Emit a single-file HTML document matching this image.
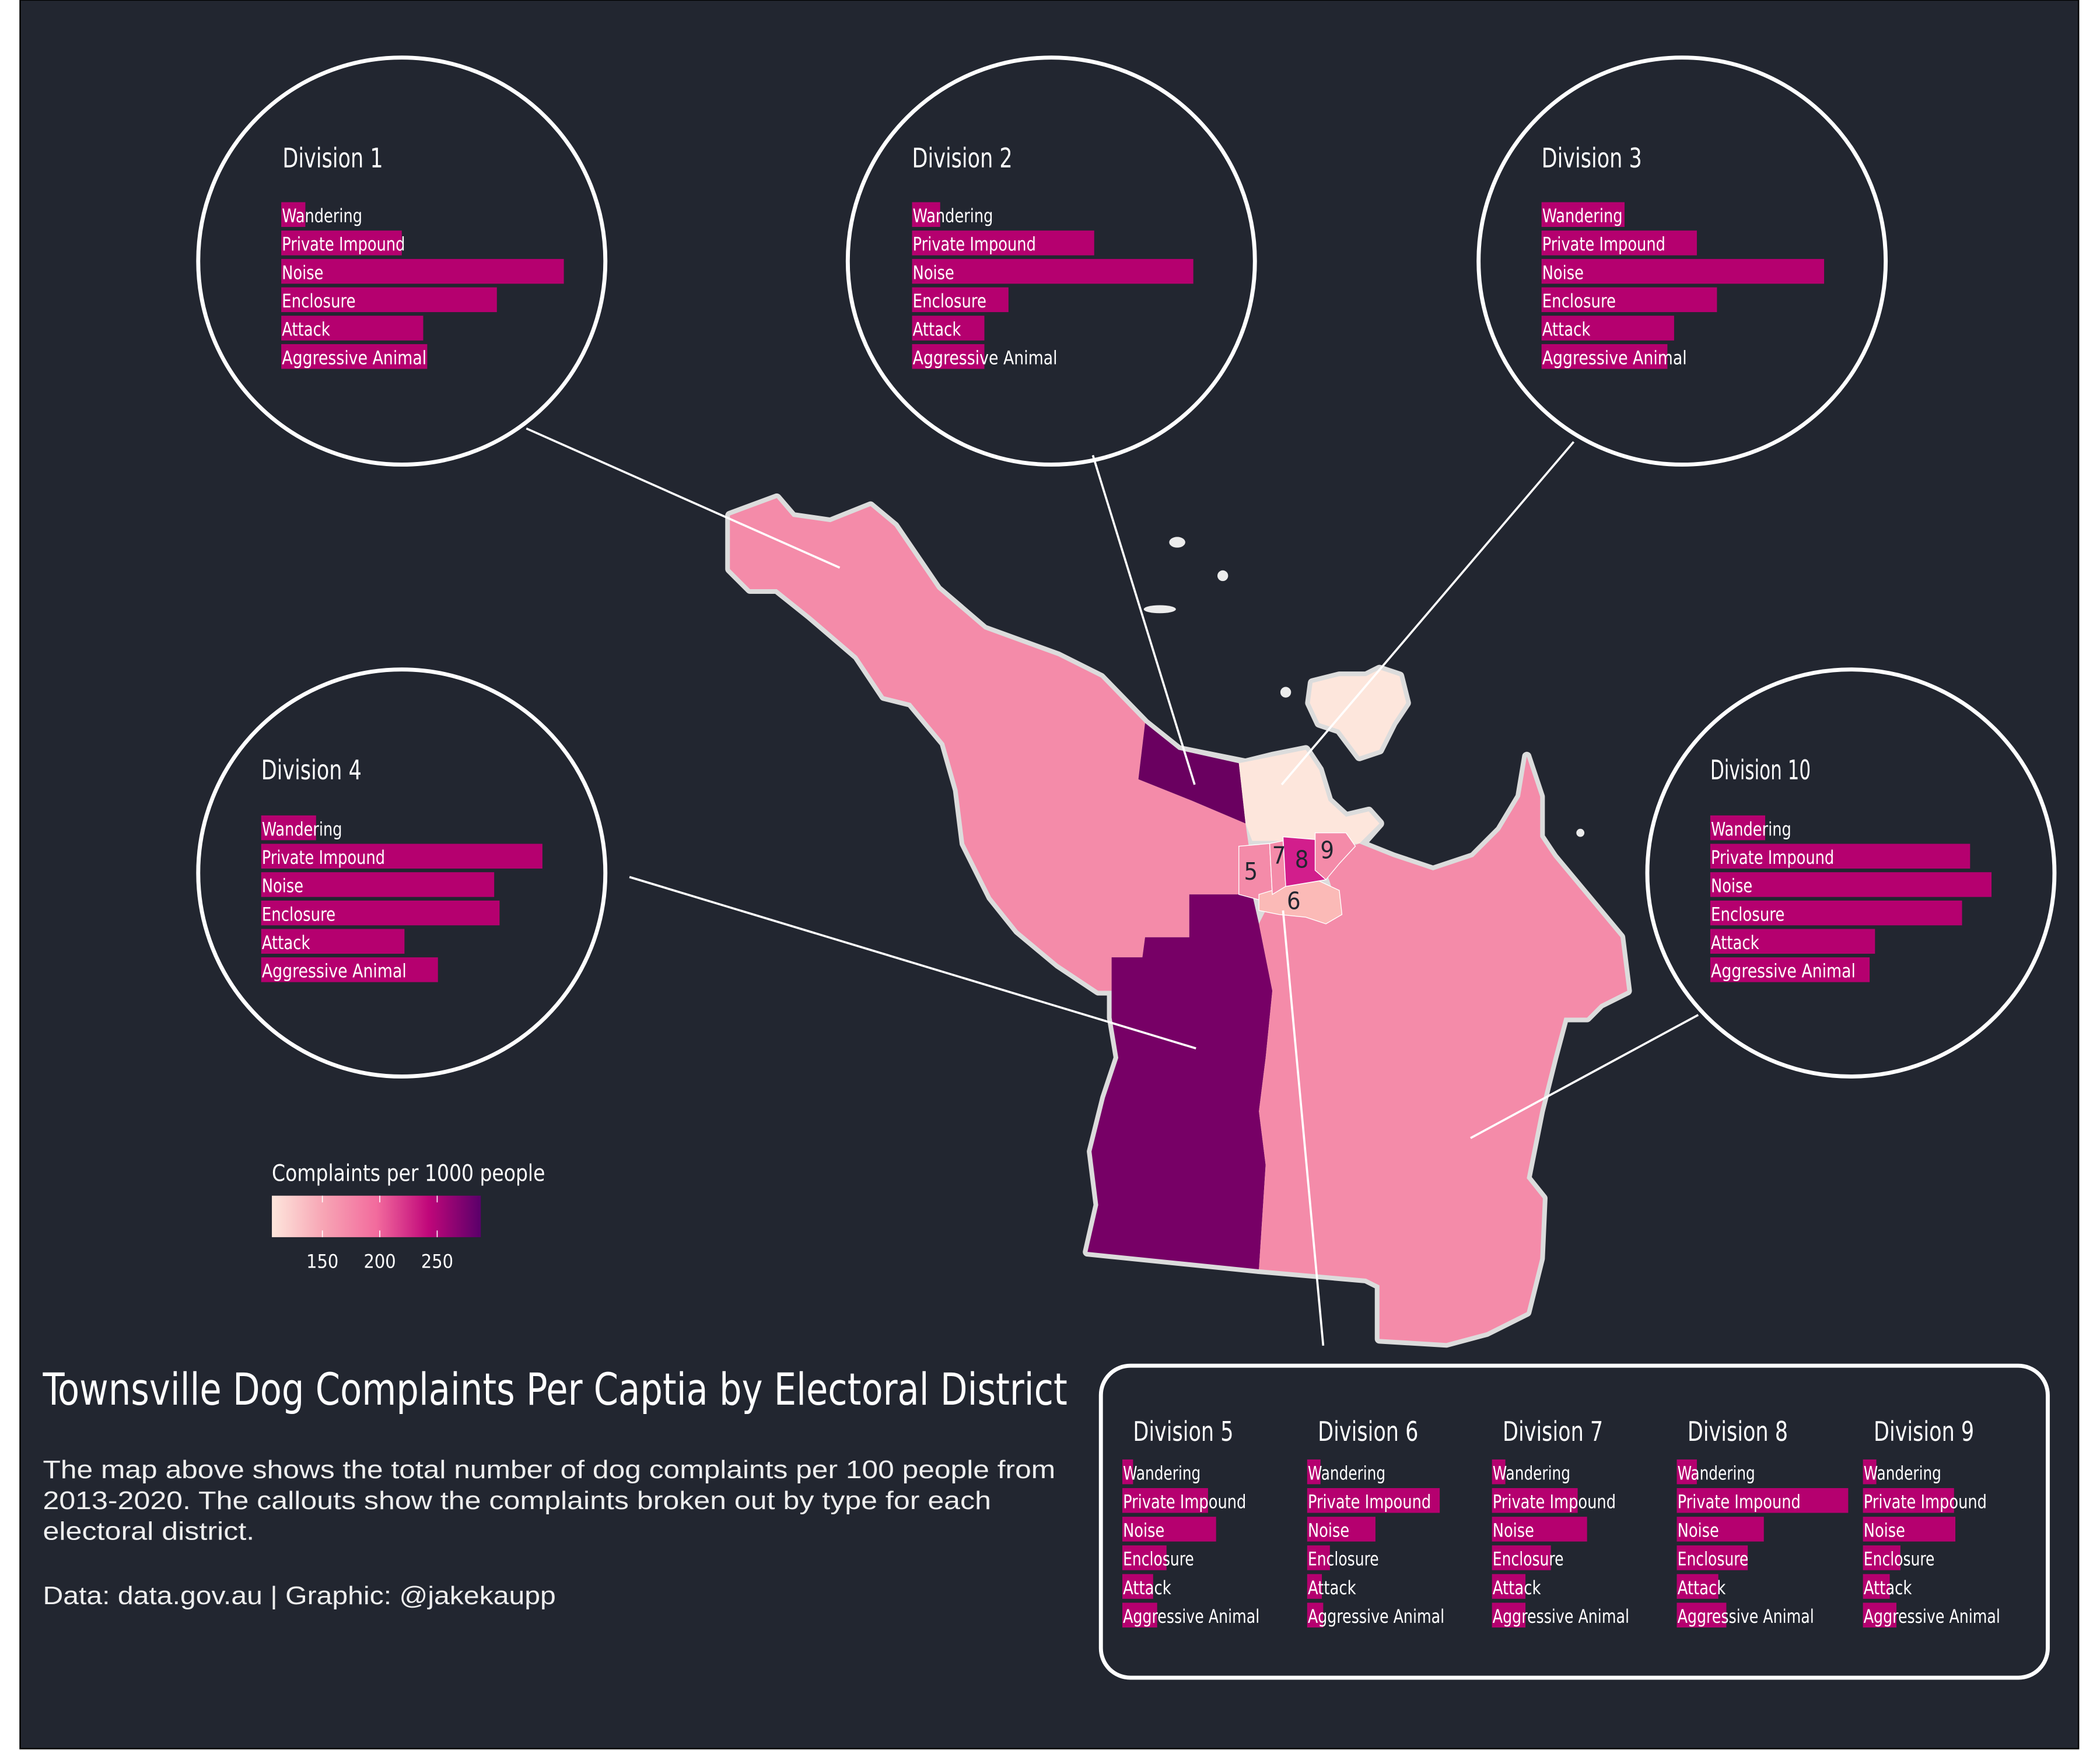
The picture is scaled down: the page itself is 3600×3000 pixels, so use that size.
<!DOCTYPE html>
<html><head><meta charset="utf-8"><style>
html,body{margin:0;padding:0;background:#fff;}
svg{display:block;}
.cond{font-family:"Liberation Sans Narrow","DejaVu Sans Condensed","Liberation Sans",sans-serif;}
</style></head><body>
<svg id="chart" width="3600" height="3000" viewBox="0 0 1568 1307" preserveAspectRatio="none" xmlns="http://www.w3.org/2000/svg">
<defs>
<linearGradient id="rdpu" x1="0" x2="1" y1="0" y2="0">
<stop offset="0" stop-color="#fde6dc"/><stop offset="0.25" stop-color="#f7a4b4"/><stop offset="0.5" stop-color="#f26b9d"/><stop offset="0.75" stop-color="#c0077a"/><stop offset="1" stop-color="#5a006a"/>
</linearGradient>
</defs>
<rect x="15" y="0" width="1537" height="1306" fill="#222630" stroke="#000" stroke-width="1"/>
<g id="map">
<g stroke="#dcdcdc" stroke-width="7" stroke-linejoin="round" fill="#dcdcdc">
<path d="M545,385 L580,372 L592,386 L620,390 L650,378 L668,393 L700,440 L735,470 L790,490 L822,506 L855,540 L880,560 L930,570 L950,565 L975,560 L985,575 L992,598 L1005,610 L1022,606 L1030,615 L1015,632 L1000,635 L990,650 L1000,680 L985,688 L960,680 L945,680 L950,740 L945,790 L940,830 L945,870 L940,948 L812,935 L820,900 L815,860 L825,820 L835,790 L830,760 L830,740 L820,740 L790,720 L760,695 L740,670 L720,630 L715,590 L705,555 L680,525 L660,520 L640,490 L605,460 L580,440 L560,440 L545,425 Z"/>
<path d="M940,948 L1020,955 L1030,960 L1030,1000 L1080,1003 L1110,995 L1140,980 L1150,940 L1152,895 L1140,880 L1150,830 L1160,790 L1168,760 L1185,760 L1195,750 L1215,740 L1210,700 L1185,670 L1160,640 L1150,625 L1150,595 L1140,565 L1135,595 L1120,620 L1100,640 L1070,650 L1040,640 L1015,630 L1000,635 L990,650 L1000,680 L985,688 L960,680 L945,680 L950,740 L945,790 L940,830 L945,870 Z"/>
<path d="M980,510 L1000,505 L1020,505 L1030,500 L1045,505 L1050,525 L1040,540 L1030,560 L1015,565 L1000,545 L985,540 L978,525 Z"/>
</g>
<path fill="#f48ba9" d="M545,385 L580,372 L592,386 L620,390 L650,378 L668,393 L700,440 L735,470 L790,490 L822,506 L855,540 L850,582 L890,598 L930,615 L935,650 L930,668 L888,668 L888,700 L855,700 L853,715 L830,715 L830,740 L820,740 L790,720 L760,695 L740,670 L720,630 L715,590 L705,555 L680,525 L660,520 L640,490 L605,460 L580,440 L560,440 L545,425 Z"/>
<path fill="#6a0060" d="M855,540 L880,560 L925,570 L930,615 L890,598 L850,582 Z"/>
<path fill="#fde6dc" d="M925,570 L950,565 L975,560 L985,575 L992,598 L1005,610 L1022,606 L1030,615 L1015,630 L990,632 L960,628 L935,628 L930,615 Z"/>
<path fill="#fde6dc" d="M980,510 L1000,505 L1020,505 L1030,500 L1045,505 L1050,525 L1040,540 L1030,560 L1015,565 L1000,545 L985,540 L978,525 Z"/>
<path fill="#770066" d="M888,668 L935,668 L940,690 L950,740 L945,790 L940,830 L945,870 L940,948 L812,935 L820,900 L815,860 L825,820 L835,790 L830,760 L830,715 L853,715 L855,700 L888,700 Z"/>
<path fill="#f48ba9" d="M940,948 L1020,955 L1030,960 L1030,1000 L1080,1003 L1110,995 L1140,980 L1150,940 L1152,895 L1140,880 L1150,830 L1160,790 L1168,760 L1185,760 L1195,750 L1215,740 L1210,700 L1185,670 L1160,640 L1150,625 L1150,595 L1140,565 L1135,595 L1120,620 L1100,640 L1070,650 L1040,640 L1015,630 L1000,635 L990,650 L1000,680 L985,688 L960,680 L945,680 L940,690 L950,740 L945,790 L940,830 L945,870 Z"/>
<path fill="#f48ba9" stroke="#fff" stroke-width="0.6" d="M925,632 L948,630 L950,668 L940,672 L925,668 Z"/>
<path fill="#fbbab7" stroke="#fff" stroke-width="0.6" d="M940,668 L960,662 L985,658 L1000,665 L1002,683 L990,690 L975,685 L955,683 L940,680 Z"/>
<path fill="#f48ba9" stroke="#fff" stroke-width="0.6" d="M948,630 L958,628 L960,662 L950,668 Z"/>
<path fill="#d21e8c" stroke="#fff" stroke-width="0.6" d="M958,625 L982,627 L982,650 L990,657 L960,662 Z"/>
<path fill="#f48ba9" stroke="#fff" stroke-width="0.6" d="M982,622 L1005,622 L1012,632 L1000,645 L990,657 L982,650 Z"/>
<g fill="#ececec">
<ellipse cx="879" cy="405" rx="6" ry="4"/><circle cx="913" cy="430" r="4"/><ellipse cx="866" cy="455" rx="12" ry="3"/><circle cx="960" cy="517" r="4"/><circle cx="1180" cy="622" r="3"/>
</g>
<g font-size="18" fill="#222630" class="cond">
<text x="934" y="657" text-anchor="middle">5</text><text x="955" y="645" text-anchor="middle">7</text><text x="972" y="648" text-anchor="middle">8</text><text x="991" y="641" text-anchor="middle">9</text><text x="966" y="679" text-anchor="middle">6</text>
</g>
</g>
<g stroke="#fff" stroke-width="1.6">
<line x1="393" y1="320" x2="627" y2="424"/><line x1="816" y1="340" x2="892" y2="586"/><line x1="1175" y1="330" x2="957" y2="586"/><line x1="470" y1="655" x2="893" y2="783"/><line x1="1268" y1="758" x2="1098" y2="850"/><line x1="958" y1="680" x2="988" y2="1005"/>
</g>
<rect x="822" y="1020" width="707" height="233" rx="22" fill="none" stroke="#fff" stroke-width="3"/>
<g id="callouts"></g>
<g>
<text x="203" y="882" class="cond" font-size="17" fill="#fff" textLength="204" lengthAdjust="spacingAndGlyphs">Complaints per 1000 people</text>
<rect x="203" y="893" width="156" height="31" fill="url(#rdpu)"/>
<g id="legend-ticks"></g>
</g>
<text x="32" y="1049" class="cond" font-size="33" fill="#fff" textLength="765" lengthAdjust="spacingAndGlyphs">Townsville Dog Complaints Per Captia by Electoral District</text>
<g font-family="'Liberation Sans',sans-serif" font-size="19" fill="#eee">
<text x="32" y="1104" textLength="756" lengthAdjust="spacingAndGlyphs">The map above shows the total number of dog complaints per 100 people from</text>
<text x="32" y="1127" textLength="708" lengthAdjust="spacingAndGlyphs">2013-2020. The callouts show the complaints broken out by type for each</text>
<text x="32" y="1150" textLength="158" lengthAdjust="spacingAndGlyphs">electoral district.</text>
<text x="32" y="1198" textLength="383" lengthAdjust="spacingAndGlyphs">Data: data.gov.au | Graphic: @jakekaupp</text>
</g>
</svg>
<script>
const categories = ["Wandering","Private Impound","Noise","Enclosure","Attack","Aggressive Animal"];
const divisionNames = ["Division 1","Division 2","Division 3","Division 4","Division 10","Division 5","Division 6","Division 7","Division 8","Division 9"];
const div1 = [18,90,211,161,106,109];
const div2 = [21,136,210,72,54,54];
const div3 = [62,116,211,131,99,94];
const div4 = [41,210,174,178,107,132];
const div10 = [41,194,210,188,123,119];
const div5 = [8,64,70,33,23,26];
const div6 = [10,99,51,17,11,12];
const div7 = [10,64,71,44,25,25];
const div8 = [15,128,65,53,31,37];
const div9 = [10,68,69,28,20,25];
const legendTicks = [150,200,250];
const legendMin = 106, legendMax = 288;

const NS = "http://www.w3.org/2000/svg";
const labelWidthsBig = [60,92,31,55,36,108];
const labelWidthsSmall = [58,92,31,53,36,102];
const xScale = v => v * 1.0;
function mk(tag, attrs, parent){const e=document.createElementNS(NS,tag);for(const k in attrs)e.setAttribute(k,attrs[k]);parent.appendChild(e);return e;}
const root = document.getElementById("callouts");
const layouts = [
 [300,195,211,125,210,151],[785,195,681,125,681,151],[1256,195,1151,125,1151,151],
 [300,652,195,582,195,609],[1382,652,1277,582,1277,609],
 [null,null,846,1076,838,1090],[null,null,984,1076,976,1090],[null,null,1122,1076,1114,1090],[null,null,1260,1076,1252,1090],[null,null,1399,1076,1391,1090]];
const allSeries = [div1,div2,div3,div4,div10,div5,div6,div7,div8,div9];
allSeries.forEach((vals,i)=>{
  const L = layouts[i];
  const g = mk("g",{},root);
  
  
  if(L[0]!==null){
    const c = mk("circle",{cx:L[0],cy:L[1],r:152,fill:"none",stroke:"#fff","stroke-width":3},g);
    
    
  }
  const t = mk("text",{x:L[2],y:L[3],"font-size":20,fill:"#fff",class:"cond",textLength:75,lengthAdjust:"spacingAndGlyphs"},g);
  t.textContent = divisionNames[i];
  
  
  const step = L[0]!==null ? 21.2 : 21.4;
  const lw = L[0]!==null ? labelWidthsBig : labelWidthsSmall;
  vals.forEach((v,j)=>{
    const y = L[5] + j*step;
    const r = mk("rect",{x:L[4],y:y,width:xScale(v),height:18.5,fill:"#b5006f"},g);
    
    
    const tx = mk("text",{x:L[4]+0.5,y:y+15,"font-size":14,fill:"#fff",class:"cond",textLength:lw[j],lengthAdjust:"spacingAndGlyphs"},g);
    tx.textContent = categories[j];
    
    
  });
});
const lt = document.getElementById("legend-ticks");
const lx = v => 203 + (v-legendMin)/(legendMax-legendMin)*156;
legendTicks.forEach(v=>{
  const x = lx(v);
  const a = mk("line",{x1:x,x2:x,y1:893,y2:898,stroke:"#fff","stroke-width":0.7},lt);
  
  
  const b = mk("line",{x1:x,x2:x,y1:919,y2:924,stroke:"#fff","stroke-width":0.7},lt);
  
  
  const t = mk("text",{x:x,y:947,"text-anchor":"middle","font-size":14,fill:"#fff",class:"cond"},lt);
  t.textContent = v;
  
  
});
</script>
</body></html>
